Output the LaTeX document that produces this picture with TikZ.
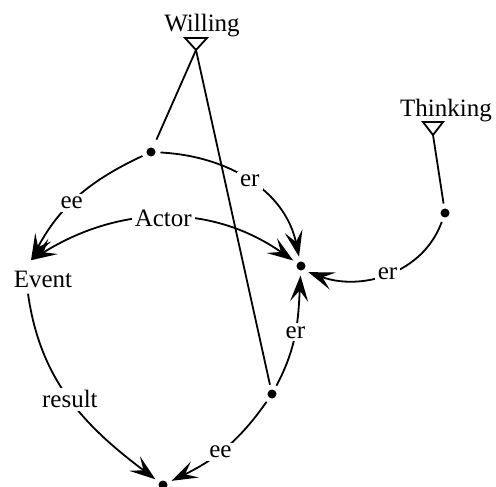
\documentclass[tikz,border=0pt]{standalone}
\usepackage{fontspec}
\setmainfont{Liberation Serif}
\usetikzlibrary{arrows.meta,positioning}

\begin{document}
\begin{tikzpicture}[x=0.5pt,y=0.5pt,
  >={Stealth[length=13pt,width=9pt,inset=5.5pt]},
  font=\fontsize{12.5}{15}\selectfont,
  dot/.style={circle,fill,inner sep=0pt,minimum size=4.5pt,outer sep=2.5pt},
  link/.style={line width=0.9pt},
  rel/.style={link,->},
  lbl/.style={fill=white,inner sep=1.5pt}]
\useasboundingbox (0,0) rectangle (496,486);

% concepts
\node[anchor=base] (willing) at (202,454) {Willing};
\node[anchor=base] (thinking) at (446,369) {Thinking};
\node[anchor=base,inner sep=2.5pt] (event) at (43,198) {Event};

% triangles under the concept names
\coordinate (wtip) at (196,436);
\coordinate (ttip) at (433,351);
\draw[link] (wtip) -- ++(-11,12) -- ++(22,0) -- cycle;
\draw[link] (ttip) -- ++(-10,13) -- ++(20,0) -- cycle;

% relation points
\node[dot] (d1) at (151,334) {};
\node[dot] (d2) at (301,220) {};
\node[dot] (d3) at (445,273) {};
\node[dot] (d4) at (272,92) {};
\node[dot] (d5) at (163,1) {};

\draw[link,shorten >=2pt] (wtip) -- (d1);
\draw[link] (wtip) -- (d4);
\draw[link] (ttip) -- (d3);

% arcs
\draw[rel] (d1) to[out=205,in=62] node[lbl,pos=0.55]{ee} ([shift={(-6pt,3pt)}]event.north);
\draw[rel] (d1) to[out=-3,in=102] node[lbl,pos=0.5]{er} (d2);
\draw[rel,<->] ([shift={(-6pt,3pt)}]event.north) to[out=32,in=145] node[lbl]{Actor} (d2);
\draw[rel] (d3) to[out=-110,in=-20] node[lbl,pos=0.5]{er} (d2.-40);
\draw[rel] (d4) to[out=62,in=-93] node[lbl,pos=0.5]{er} (d2);
\draw[rel] (d4) to[out=235,in=26] node[lbl,pos=0.55]{ee} (d5);
\draw[rel] ([xshift=-7.5pt]event.south) to[out=-82,in=143] node[lbl,pos=0.5]{result} (d5);
\end{tikzpicture}
\end{document}
